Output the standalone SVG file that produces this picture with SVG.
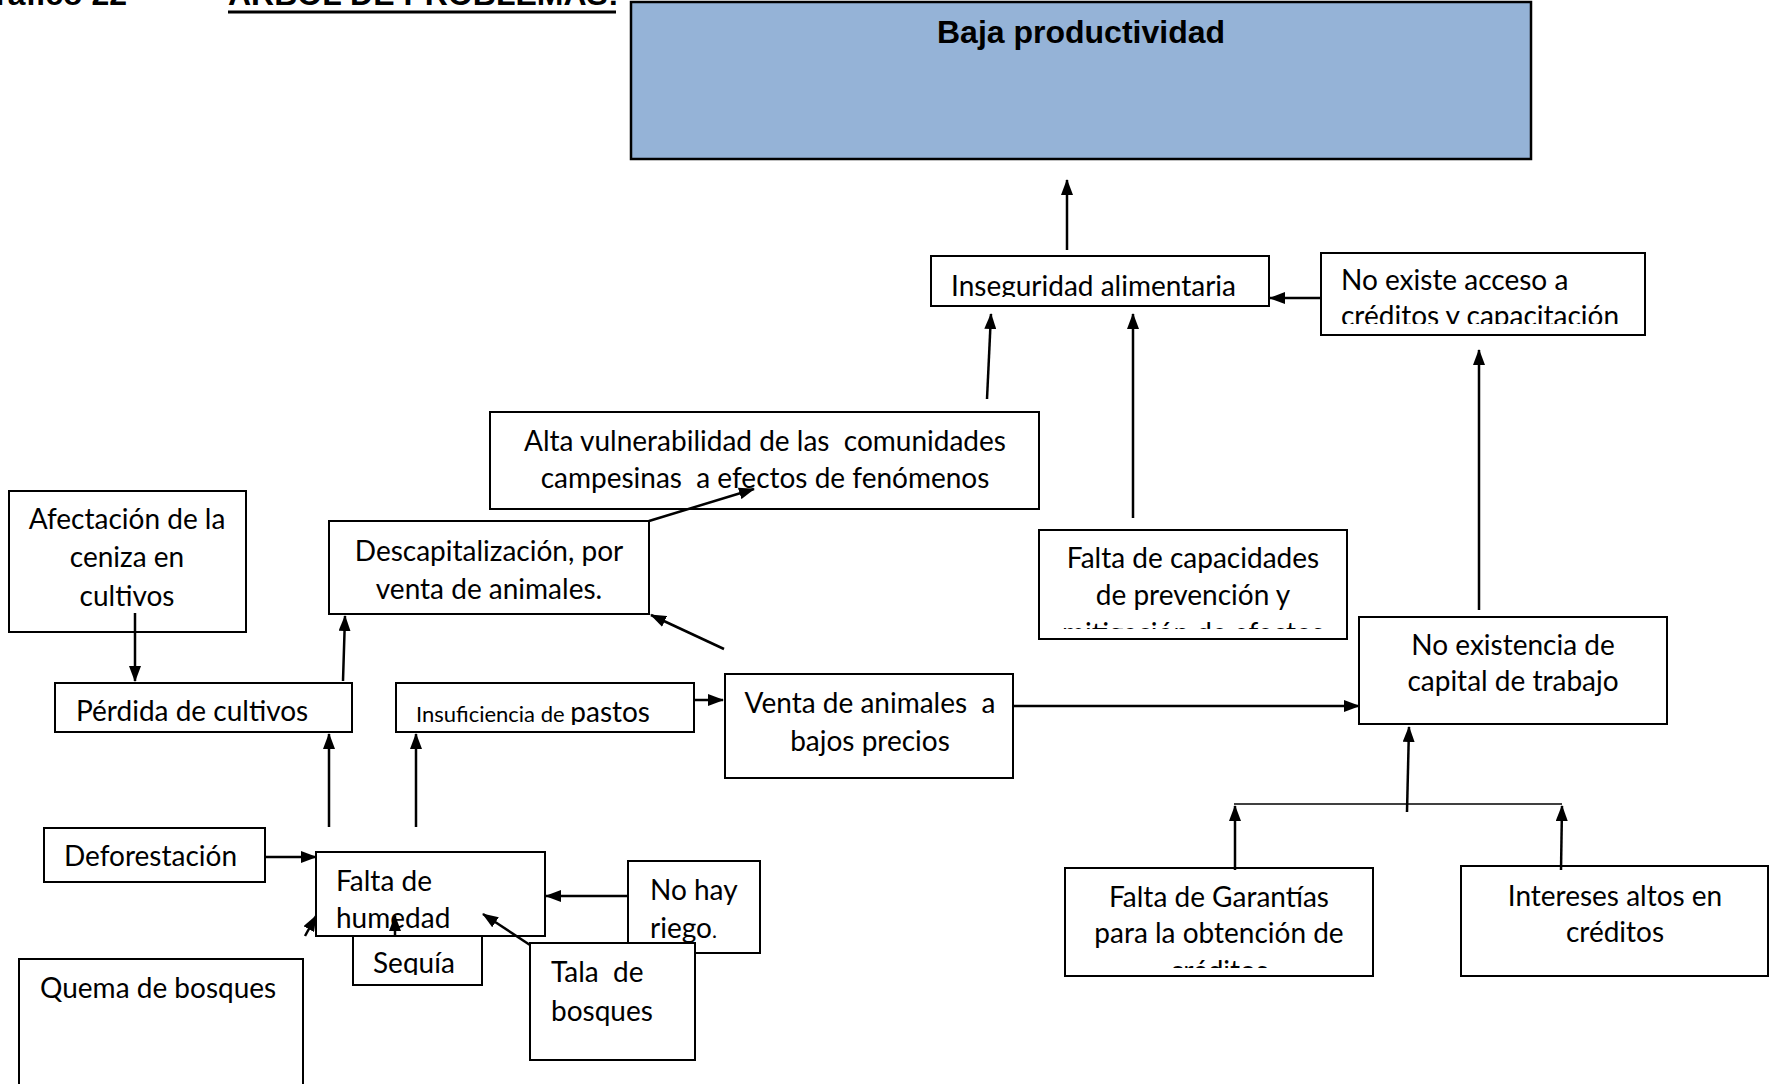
<svg xmlns="http://www.w3.org/2000/svg" width="1769" height="1084" viewBox="0 0 1769 1084" xml:space="preserve">
<style>
.box{fill:#ffffff;stroke:#000000;stroke-width:2}
.t{font-family:Lato,"Open Sans","Noto Sans",sans-serif;font-size:28px;fill:#000000;white-space:pre}
.c{text-anchor:middle}
.ttl{font-family:"Liberation Sans",Arial,sans-serif;font-weight:bold;font-size:32px;fill:#000000}
.ln{stroke:#000000;stroke-width:2.5;fill:none}
.thin{stroke:#000000;stroke-width:1.5;fill:none}
</style>
<defs>
<marker id="ah" viewBox="0 0 16 12" refX="15" refY="6" markerWidth="16" markerHeight="12" markerUnits="userSpaceOnUse" orient="auto">
<path d="M0,0 L16,6 L0,12 Z" fill="#000000"/>
</marker>
<clipPath id="cInseg"><rect x="931" y="256" width="338" height="41"/></clipPath>
<clipPath id="cAcceso"><rect x="1321" y="253" width="324" height="71"/></clipPath>
<clipPath id="cCapac"><rect x="1039" y="530" width="308" height="99"/></clipPath>
<clipPath id="cInsuf"><rect x="396" y="683" width="298" height="42"/></clipPath>
<clipPath id="cRiego"><rect x="628" y="861" width="132" height="82"/></clipPath>
<clipPath id="cSequia"><rect x="353" y="936" width="129" height="39"/></clipPath>
<clipPath id="cGarant"><rect x="1065" y="868" width="308" height="100"/></clipPath>
</defs>

<g id="title">
<text class="ttl" x="127" y="5" text-anchor="end">Gráfico 22</text>
<text class="ttl" x="228" y="5">ÁRBOL DE PROBLEMAS:</text>
<line x1="228" y1="12" x2="616" y2="12" stroke="#000000" stroke-width="3"/>
</g>

<g id="n-baja">
<rect x="631" y="2" width="900" height="157" fill="#95B3D7" stroke="#000000" stroke-width="2.5"/>
<text class="ttl c" x="1081" y="43">Baja productividad</text>
</g>

<g id="n-inseguridad">
<rect class="box" x="931" y="256" width="338" height="50"/>
<text class="t" x="951" y="296" clip-path="url(#cInseg)">Inseguridad alimentaria</text>
</g>

<g id="n-acceso">
<rect class="box" x="1321" y="253" width="324" height="82"/>
<text class="t" x="1341" y="290" clip-path="url(#cAcceso)">No existe acceso a</text>
<text class="t" x="1341" y="326" clip-path="url(#cAcceso)">créditos y capacitación</text>
</g>

<g id="n-vulnerabilidad">
<rect class="box" x="490" y="412" width="549" height="97"/>
<text class="t c" x="765" y="451">Alta vulnerabilidad de las  comunidades</text>
<text class="t c" x="765" y="488">campesinas  a efectos de fenómenos</text>
</g>

<g id="n-descap">
<rect class="box" x="329" y="521" width="320" height="93"/>
<text class="t c" x="489" y="561">Descapitalización, por</text>
<text class="t c" x="489" y="599">venta de animales.</text>
</g>

<g id="n-afectacion">
<rect class="box" x="9" y="491" width="237" height="141"/>
<text class="t c" x="127" y="529">Afectación de la</text>
<text class="t c" x="127" y="567">ceniza en</text>
<text class="t c" x="127" y="606">cultivos</text>
</g>

<g id="n-capacidades">
<rect class="box" x="1039" y="530" width="308" height="109"/>
<text class="t c" x="1193" y="568">Falta de capacidades</text>
<text class="t c" x="1193" y="605">de prevención y</text>
<text class="t c" x="1193" y="643" clip-path="url(#cCapac)">mitigación de efectos</text>
</g>

<g id="n-capital">
<rect class="box" x="1359" y="617" width="308" height="107"/>
<text class="t c" x="1513" y="655">No existencia de</text>
<text class="t c" x="1513" y="691">capital de trabajo</text>
</g>

<g id="n-perdida">
<rect class="box" x="55" y="683" width="297" height="49"/>
<text class="t" x="76" y="721">Pérdida de cultivos</text>
</g>

<g id="n-insuficiencia">
<rect class="box" x="396" y="683" width="298" height="49"/>
<text class="t" x="416" y="722" clip-path="url(#cInsuf)"><tspan font-size="22">Insuficiencia de </tspan>pastos</text>
</g>

<g id="n-venta">
<rect class="box" x="725" y="674" width="288" height="104"/>
<text class="t c" x="870" y="713">Venta de animales  a</text>
<text class="t c" x="870" y="751">bajos precios</text>
</g>

<g id="n-deforestacion">
<rect class="box" x="44" y="828" width="221" height="54"/>
<text class="t" x="64" y="866">Deforestación</text>
</g>

<g id="n-sequia">
<rect class="box" x="353" y="936" width="129" height="49"/>
<text class="t" x="373" y="973" clip-path="url(#cSequia)">Sequía</text>
</g>

<g id="n-humedad">
<rect class="box" x="316" y="852" width="229" height="84"/>
<text class="t" x="336" y="891">Falta de</text>
<text class="t" x="336" y="928">humedad</text>
</g>

<g id="n-riego">
<rect class="box" x="628" y="861" width="132" height="92"/>
<text class="t" x="650" y="900">No hay</text>
<text class="t" x="650" y="938" clip-path="url(#cRiego)">riego<tspan font-size="21">.</tspan></text>
</g>

<g id="n-tala">
<rect class="box" x="530" y="943" width="165" height="117"/>
<text class="t" x="551" y="982">Tala  de</text>
<text class="t" x="551" y="1021">bosques</text>
</g>

<g id="n-quema">
<rect class="box" x="19" y="959" width="284" height="140"/>
<text class="t" x="40" y="998">Quema de bosques</text>
</g>

<g id="n-garantias">
<rect class="box" x="1065" y="868" width="308" height="108"/>
<text class="t c" x="1219" y="907">Falta de Garantías</text>
<text class="t c" x="1219" y="943">para la obtención de</text>
<text class="t c" x="1219" y="981" clip-path="url(#cGarant)">créditos</text>
</g>

<g id="n-intereses">
<rect class="box" x="1461" y="866" width="307" height="110"/>
<text class="t c" x="1615" y="906">Intereses altos en</text>
<text class="t c" x="1615" y="942">créditos</text>
</g>

<g id="connectors">
<line class="ln" x1="1067" y1="250" x2="1067" y2="180" marker-end="url(#ah)"/>
<line class="ln" x1="987" y1="399" x2="991" y2="314" marker-end="url(#ah)"/>
<line class="ln" x1="1133" y1="518" x2="1133" y2="314" marker-end="url(#ah)"/>
<line class="ln" x1="1321" y1="298" x2="1270" y2="298" marker-end="url(#ah)"/>
<line class="ln" x1="1479" y1="610" x2="1479" y2="350" marker-end="url(#ah)"/>
<line class="ln" x1="649" y1="521" x2="754" y2="489" marker-end="url(#ah)"/>
<line class="ln" x1="724" y1="649" x2="651" y2="615" marker-end="url(#ah)"/>
<line class="ln" x1="135" y1="613" x2="135" y2="681" marker-end="url(#ah)"/>
<line class="ln" x1="343" y1="681" x2="345" y2="616" marker-end="url(#ah)"/>
<line class="ln" x1="694" y1="700" x2="723" y2="700" marker-end="url(#ah)"/>
<line class="ln" x1="1013" y1="706" x2="1359" y2="706" marker-end="url(#ah)"/>
<line class="ln" x1="329" y1="827" x2="329" y2="734" marker-end="url(#ah)"/>
<line class="ln" x1="416" y1="827" x2="416" y2="734" marker-end="url(#ah)"/>
<line class="ln" x1="265" y1="857" x2="316" y2="857" marker-end="url(#ah)"/>
<line class="ln" x1="628" y1="896" x2="546" y2="896" marker-end="url(#ah)"/>
<line class="ln" x1="530" y1="945" x2="483" y2="914" marker-end="url(#ah)"/>
<line class="ln" x1="395" y1="936" x2="395" y2="916" marker-end="url(#ah)"/>
<line class="ln" x1="305" y1="936" x2="316" y2="916" marker-end="url(#ah)"/>
<line class="ln" x1="1235" y1="870" x2="1235" y2="806" marker-end="url(#ah)"/>
<line class="ln" x1="1561" y1="870" x2="1562" y2="806" marker-end="url(#ah)"/>
<line class="thin" x1="1234" y1="804" x2="1562" y2="804"/>
<line class="ln" x1="1407" y1="812" x2="1409" y2="727" marker-end="url(#ah)"/>
</g>
</svg>
